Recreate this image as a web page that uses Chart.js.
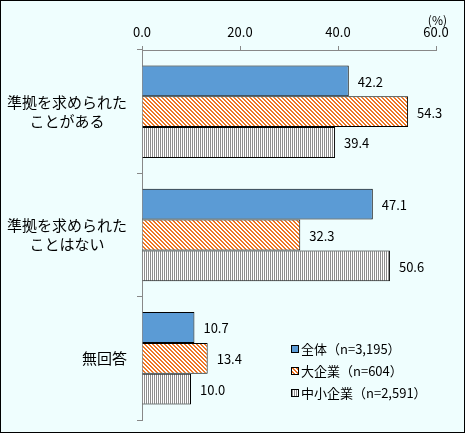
<!DOCTYPE html>
<html>
<head>
<meta charset="utf-8">
<script src="https://cdn.jsdelivr.net/npm/chart.js@4/dist/chart.umd.min.js"></script>
<style>
  html, body { margin: 0; padding: 0; background: #fff; }
  canvas { display: block; }
</style>
</head>
<body>
<canvas id="surveyChart" width="465" height="433"></canvas>
<script>
const categories = [
    ['準拠を求められた', 'ことがある'],
    ['準拠を求められた', 'ことはない'],
    ['無回答'],
];
const seriesNames = ['全体（n=3,195）', '大企業（n=604）', '中小企業（n=2,591）'];
const allValues = [42.2, 47.1, 10.7];
const largeValues = [54.3, 32.3, 13.4];
const smeValues = [39.4, 50.6, 10.0];
const xTicks = [0, 20, 40, 60];

const font = '"Noto Sans CJK JP", "Noto Sans", sans-serif';
const blue = '#5b9bd5';
const orange = '#ee7624';
const stripeGray = '#8e8e8e';

function makePattern(size, paint) {
    const c = document.createElement('canvas');
    c.width = size;
    c.height = size;
    const g = c.getContext('2d');
    g.fillStyle = '#fff';
    g.fillRect(0, 0, size, size);
    for (let y = 0; y < size; y++) {
        for (let x = 0; x < size; x++) {
            const col = paint(x, y);
            if (col) {
                g.fillStyle = col;
                g.fillRect(x, y, 1, 1);
            }
        }
    }
    return g.createPattern(c, 'repeat');
}

const ctx = document.getElementById('surveyChart').getContext('2d');
const hatch = makePattern(4, (x, y) => (((x - y) % 4) + 4) % 4 < 2 ? orange : null);
const vstripe = makePattern(2, (x) => x === 0 ? stripeGray : null);
const fills = [blue, hatch, vstripe];

const frame = {
    id: 'frame',
    beforeDraw(chart) {
        const c = chart.ctx;
        c.save();
        c.fillStyle = '#effefe';
        c.fillRect(0, 0, chart.width, chart.height);
        c.strokeStyle = '#000';
        c.lineWidth = 1;
        c.strokeRect(0.5, 0.5, chart.width - 1, chart.height - 1);
        c.fillStyle = '#000';
        c.font = '12px ' + font;
        c.textAlign = 'right';
        c.textBaseline = 'middle';
        c.fillText('(%)', chart.chartArea.right + 11, 20);
        c.restore();
    },
};

const categoryLabels = {
    id: 'categoryLabels',
    afterDraw(chart) {
        const c = chart.ctx;
        const yScale = chart.scales.y;
        const right = chart.chartArea.left - 15;
        c.save();
        c.fillStyle = '#000';
        c.font = '15px ' + font;
        c.textAlign = 'center';
        c.textBaseline = 'middle';
        categories.forEach((lines, i) => {
            const w = Math.max(...lines.map((l) => c.measureText(l).width));
            const cx = right - w / 2;
            const y0 = yScale.getPixelForValue(i) - (lines.length - 1) * 19 / 2;
            lines.forEach((l, k) => c.fillText(l, cx, y0 + k * 19));
        });
        c.restore();
    },
};

const valueLabels = {
    id: 'valueLabels',
    afterDatasetsDraw(chart) {
        const c = chart.ctx;
        c.save();
        c.fillStyle = '#000';
        c.font = '13px ' + font;
        c.textAlign = 'left';
        c.textBaseline = 'middle';
        chart.data.datasets.forEach((ds, i) => {
            chart.getDatasetMeta(i).data.forEach((bar, j) => {
                c.fillText(ds.data[j].toFixed(1), bar.x + 9, bar.y + 1);
            });
        });
        c.restore();
    },
};

const boxLegend = {
    id: 'boxLegend',
    afterDraw(chart) {
        const c = chart.ctx;
        const x = chart.chartArea.right - 145;
        const yTop = chart.chartArea.bottom - 71;
        c.save();
        c.font = '13px ' + font;
        c.textAlign = 'left';
        c.textBaseline = 'middle';
        chart.data.datasets.forEach((ds, i) => {
            const y = yTop + i * 22;
            c.fillStyle = ds.backgroundColor;
            c.fillRect(x, y - 3.5, 7, 7);
            c.strokeStyle = '#000';
            c.lineWidth = 1;
            c.strokeRect(x + 0.5, y - 3.5, 7, 7);
            c.fillStyle = '#000';
            c.fillText(ds.label, x + 10, y);
        });
        c.restore();
    },
};

new Chart(ctx, {
    type: 'bar',
    data: {
        labels: categories,
        datasets: [
            { label: seriesNames[0], data: allValues, backgroundColor: fills[0] },
            { label: seriesNames[1], data: largeValues, backgroundColor: fills[1] },
            { label: seriesNames[2], data: smeValues, backgroundColor: fills[2] },
        ],
    },
    options: {
        indexAxis: 'y',
        responsive: false,
        animation: false,
        devicePixelRatio: 1,
        layout: { padding: { left: 0, top: 0, right: 29, bottom: 13 } },
        datasets: {
            bar: {
                borderColor: '#000',
                borderWidth: 1,
                categoryPercentage: 0.75,
                barPercentage: 1,
            },
        },
        plugins: {
            legend: { display: false },
            tooltip: { enabled: false },
        },
        scales: {
            x: {
                position: 'top',
                min: 0,
                max: 60,
                afterBuildTicks: (s) => { s.ticks = xTicks.map((v) => ({ value: v })); },
                afterFit: (s) => { s.height = 50; },
                ticks: {
                    padding: 6,
                    color: '#000',
                    font: { family: font, size: 13 },
                    callback: (v) => Number(v).toFixed(1),
                },
                grid: { drawOnChartArea: false, tickLength: 4, color: '#888' },
                border: { color: '#888' },
            },
            y: {
                afterFit: (s) => { s.width = 142; },
                ticks: { display: false },
                grid: { drawOnChartArea: false, tickLength: 5, color: '#888', offset: true },
                border: { color: '#888' },
            },
        },
    },
    plugins: [frame, categoryLabels, valueLabels, boxLegend],
});
</script>
</body>
</html>
